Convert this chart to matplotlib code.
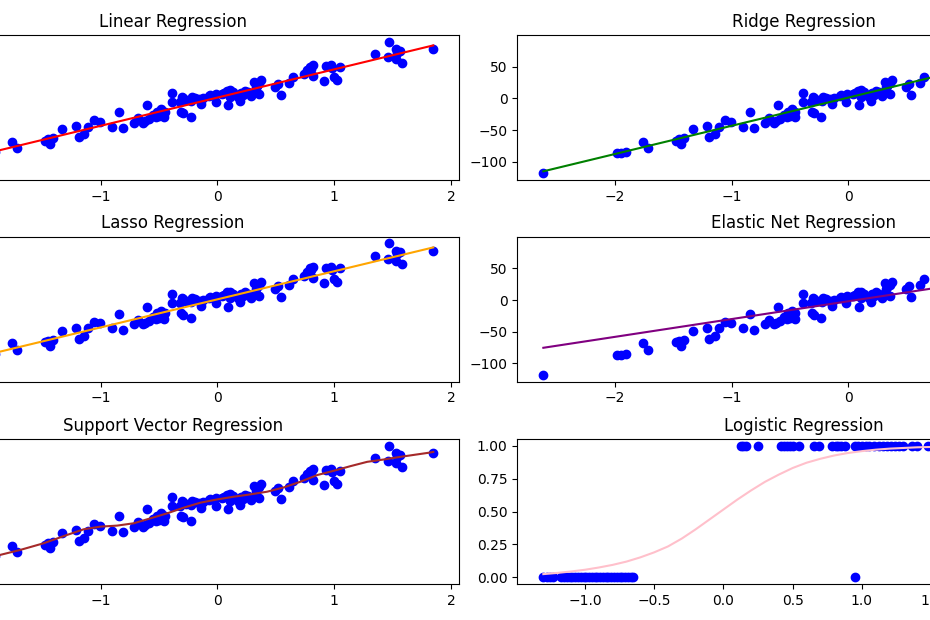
import numpy as np
import matplotlib
matplotlib.use("Agg")
import matplotlib.pyplot as plt

# ---- regression data (shared by the five regression panels) ----
reg_x = [-2.614, -1.986, -1.951, -1.909, -1.757, -1.72, -1.48, -1.454, -1.431, -1.411,
         -1.329, -1.214, -1.191, -1.146, -1.106, -1.054, -1.009, -0.903, -0.84, -0.809,
         -0.717, -0.677, -0.64, -0.6, -0.589, -0.551, -0.517, -0.48, -0.46, -0.454,
         -0.53, -0.62, -0.5, -0.386, -0.386, -0.323, -0.311, -0.294, -0.294, -0.231,
         -0.226, -0.217, -0.189, -0.137, -0.123, -0.074, -0.017, -0.009, 0.04, 0.083,
         0.091, 0.106, 0.111, 0.174, 0.191, 0.203, 0.24, 0.289, 0.306, 0.317,
         0.326, 0.354, 0.374, 0.497, 0.517, 0.54, 0.611, 0.649, 0.74, 0.763,
         0.797, 0.82, 0.82, 0.917, 0.926, 0.969, 0.997, 1.026, 1.054, 1.354,
         1.46, 1.474, 1.526, 1.563, 1.526, 1.583, 1.849, -0.27, -0.06, 0.06,
         0.13, 0.26, 0.335, 0.36, -0.16, 0.8, 0.98, 0.22, 1.54, -0.3]
reg_y = [-118.4, -86.8, -86.8, -85.3, -68.4, -78.4, -66.8, -64.7, -72.1, -63.2,
         -48.7, -43.5, -61.6, -56.3, -44.7, -34.7, -36.8, -44.7, -22.1, -47.4,
         -38.4, -31.6, -38.4, -10.5, -33.0, -26.3, -21.0, -17.4, -30.0, -21.0,
         -30.0, -36.0, -28.0, 8.9, -5.3, -5.3, -21.0, 1.1, -23.7, -28.9,
         -3.7, 2.6, 1.1, -8.9, 0.0, 3.7, -5.3, 6.3, 6.8, 12.1,
         -10.5, 13.2, 2.6, 2.6, -3.7, 8.9, 12.1, 3.7, 7.9, 26.3,
         17.4, 6.8, 28.9, 17.4, 22.6, 5.3, 23.7, 33.2, 38.4, 44.7,
         50.0, 52.6, 35.3, 27.4, 51.1, 52.6, 33.2, 28.9, 50.0, 70.0,
         64.7, 89.5, 77.4, 75.3, 62.1, 56.3, 77.9, -2.0, 4.5, 8.0,
         10.0, 10.0, 20.0, 24.0, -1.0, 47.0, 48.0, 6.0, 72.0, 2.5]

# ---- fitted lines ----
line_x = [-2.614, 1.849]
linear_y = [-115.1, 83.5]
ridge_y = [-115.1, 83.5]
lasso_y = [-114.6, 83.0]
enet_y = [-75.3, 50.0]

svr_x = [-2.614, -2.2, -1.86, -1.689, -1.489, -1.289, -1.146, -1.003, -0.86, -0.717,
         -0.574, -0.431, -0.289, -0.146, 0.0, 0.14, 0.283, 0.426, 0.569, 0.711,
         0.854, 0.997, 1.14, 1.283, 1.426, 1.569, 1.806, 1.849]
svr_y = [-112.0, -97.0, -82.8, -75.0, -64.5, -51.4, -42.5, -38.3, -36.7, -33.0,
         -25.2, -17.3, -8.4, -0.5, 4.7, 8.9, 12.6, 16.8, 23.6, 32.5,
         43.0, 49.8, 57.1, 63.9, 67.6, 71.8, 78.1, 79.5]

# ---- logistic data ----
log_x0 = [-1.30, -1.27, -1.25, -1.23, -1.175, -1.15, -1.13, -1.11, -1.09, -1.07,
          -1.05, -1.03, -1.01, -0.99, -0.97, -0.95, -0.93, -0.91, -0.89, -0.87,
          -0.85, -0.83, -0.81, -0.79, -0.77, -0.75, -0.73, -0.71, -0.69, -0.67,
          -0.655, 0.947]
log_x1 = [0.127, 0.145, 0.163, 0.247, 0.415, 0.44, 0.46, 0.48, 0.50, 0.547,
          0.655, 0.69, 0.787, 0.81, 0.83, 0.85, 0.88, 0.947, 0.97, 1.0,
          1.03, 1.05, 1.09, 1.12, 1.15, 1.18, 1.21, 1.24, 1.27, 1.30,
          1.36, 1.40, 1.48, 1.55, 1.63, 1.72, 1.85, 1.98, 2.12, 2.30, 2.46]
sig_x = [-1.30, -1.2, -1.1, -1.0, -0.9, -0.8, -0.7, -0.6, -0.5, -0.4,
         -0.3, -0.2, -0.1, 0.0, 0.1, 0.2, 0.3, 0.4, 0.5, 0.6,
         0.7, 0.8, 0.9, 1.0, 1.1, 1.2, 1.4, 1.6, 1.8, 2.0,
         2.2, 2.46]
sig_y = [0.025, 0.034, 0.045, 0.058, 0.075, 0.095, 0.12, 0.152, 0.19, 0.235,
         0.295, 0.365, 0.44, 0.515, 0.59, 0.66, 0.725, 0.78, 0.83, 0.87,
         0.90, 0.925, 0.944, 0.958, 0.969, 0.977, 0.987, 0.992, 0.995, 0.997,
         0.998, 0.999]

W, H = 930, 620
fig = plt.figure(figsize=(W / 100, H / 100), dpi=100)

def ax_at(left_px, top_px, width_px=572.9, height_px=145.0):
    return fig.add_axes([left_px / W, 1 - (top_px + height_px) / H,
                         width_px / W, height_px / H])

left_l, left_r = -113.6, 517.3
tops = [35.0, 236.7, 439.0]

panels = [
    (left_l, tops[0], "Linear Regression", line_x, linear_y, "red"),
    (left_r, tops[0], "Ridge Regression", line_x, ridge_y, "green"),
    (left_l, tops[1], "Lasso Regression", line_x, lasso_y, "orange"),
    (left_r, tops[1], "Elastic Net Regression", line_x, enet_y, "purple"),
    (left_l, tops[2], "Support Vector Regression", svr_x, svr_y, "brown"),
]
for lpx, tpx, title, lx, ly, col in panels:
    ax = ax_at(lpx, tpx)
    ax.scatter(reg_x, reg_y, color="blue")
    ax.plot(lx, ly, color=col)
    ax.set_title(title)
    if lpx < 0:
        # y tick labels of the left column fall outside the visible canvas
        ax.tick_params(axis="y", labelleft=False)

ax = ax_at(left_r, tops[2])
ax.scatter(log_x0, [0] * len(log_x0), color="blue")
ax.scatter(log_x1, [1] * len(log_x1), color="blue")
ax.plot(sig_x, sig_y, color="pink")
ax.set_title("Logistic Regression")

fig.savefig("out.png", dpi=100)
